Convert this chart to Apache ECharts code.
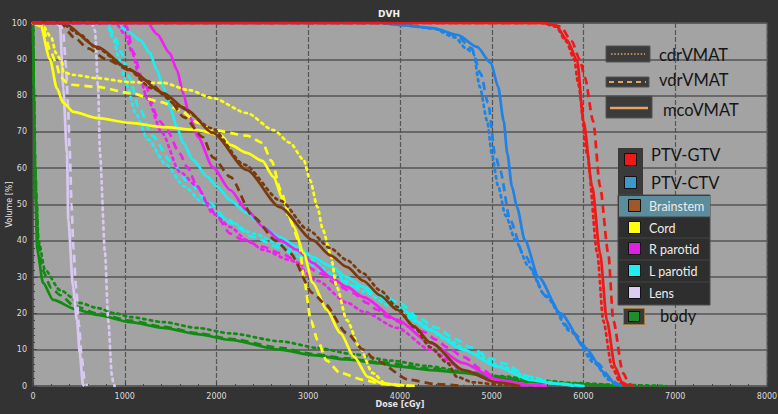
<!DOCTYPE html>
<html><head><meta charset="utf-8">
<script src="https://cdn.jsdelivr.net/npm/echarts@6/dist/echarts.min.js"></script>
<style>html,body{margin:0;padding:0;background:#333;}#c{width:778px;height:414px;}</style>
</head><body><div id="c"></div>
<script>
// ---- tick labels ----
const doseTicks = [0,1000,2000,3000,4000,5000,6000,7000,8000];
const volTicks = [0,10,20,30,40,50,60,70,80,90,100];
// ---- plans (line styles) ----
const planNames = ['cdrVMAT','vdrVMAT','mcoVMAT'];
// ---- structures ----
const structNames = ['PTV-GTV','PTV-CTV','Brainstem','Cord','R parotid','L parotid','Lens','body'];

// ---- DVH data: [dose cGy, volume %] ----
const gtvCdr = [[0,100],[5550,100],[5700,99],[5810,95],[5900,90],[5940,83.5],[6040,64],[6150,36.6],[6215,18],[6310,5.2],[6400,1],[6460,0]];
const gtvVdr = [[0,100],[5600,100],[5750,99],[5870,95],[5960,90],[6015,85],[6105,73],[6180,55],[6270,36.6],[6325,18],[6430,3.6],[6500,0.5],[6540,0]];
const gtvMco = [[0,100],[5550,100],[5700,99.3],[5820,95.3],[5930,89.8],[6000,73],[6095,55],[6180,36.6],[6255,18],[6345,5.2],[6420,1],[6480,0]];

const ctvCdr = [[0,100],[3800,100],[4000,99.5],[4360,98.5],[4600,96],[4720,93],[4800,91.7],[4870,82.4],[4950,73],[5000,64],[5070,55],[5150,47],[5260,40],[5400,33],[5580,25],[5860,15],[6120,6.3],[6280,1.7],[6350,0]];
const ctvVdr = [[0,100],[3800,100],[4000,99.5],[4360,98.5],[4620,96.5],[4780,93],[4880,86],[4960,78],[5035,64],[5090,59.5],[5200,45.7],[5340,36.6],[5600,24.5],[5890,14.6],[6150,6.3],[6310,1.7],[6380,0]];
const ctvMco = [[0,100],[3800,100],[4000,99.5],[4360,98.6],[4630,96.7],[4840,93.4],[4990,89],[5070,82.4],[5130,73],[5170,64],[5220,55],[5275,49.3],[5360,40.2],[5510,30],[5750,20],[6020,10.5],[6230,3.6],[6340,0.8],[6420,0]];

const bsCdr = [[0,100],[300,100],[500,97],[700,93],[1000,88],[1300,82],[1600,77],[1950,71],[2300,61],[2700,51],[3000,43],[3240,38],[3420,34.7],[3600,31],[3780,26.4],[3970,21.8],[4150,16.3],[4330,10.7],[4520,6.3],[4620,2.5],[4800,1],[5100,0.3],[5300,0]];
const bsVdr = [[0,100],[300,100],[450,96],[600,93],[800,90],[1050,87],[1250,84],[1450,80],[1650,74],[1850,68.6],[1960,63],[2150,57.6],[2400,46.6],[2650,40],[2800,36.6],[3050,25.6],[3170,22.9],[3420,14.6],[3600,10],[3740,7],[4100,1.7],[4400,0.5],[4700,0]];
const bsMco = [[0,100],[330,100],[700,93.4],[1060,87],[1420,80.7],[1680,76],[1960,69.7],[2330,59.5],[2690,49.3],[3050,40.2],[3240,36],[3420,32.8],[3600,29],[3780,25],[3970,21],[4150,16.5],[4330,12],[4690,4.4],[5060,1],[5300,0]];

const cordCdr = [[0,100],[100,99.5],[200,96],[250,91.7],[320,89],[330,86.5],[440,85.7],[700,84.8],[1060,83.7],[1420,83.5],[1700,81.5],[1960,79.3],[2330,75.2],[2620,70.5],[2800,67],[2950,62.3],[3020,56.7],[3100,49.3],[3160,43],[3240,36.6],[3310,27.3],[3420,18.2],[3560,10.7],[3700,3.6],[3850,0.5],[4100,0]];
const cordVdr = [[0,100],[100,99],[200,91.7],[250,89],[300,85],[400,83],[700,82.4],[1060,80.7],[1400,78.2],[1600,76],[1800,72.5],[1960,70.5],[2330,69],[2500,67],[2600,62],[2700,54],[2800,45.7],[2900,40],[2950,30],[3030,18],[3100,12.7],[3200,7],[3350,3.6],[3600,1.7],[3800,0.5],[4200,0]];
const cordMco = [[0,100],[80,99.4],[185,90],[260,82],[330,78],[440,75.5],[700,73.8],[1060,72.5],[1420,71.3],[1800,70.5],[2050,69],[2150,66.4],[2330,64.2],[2500,62],[2620,57.6],[2730,51],[2840,44],[2950,36.6],[3050,28.4],[3200,21],[3350,14.6],[3500,8],[3650,2.5],[3800,0.8],[4000,0]];

const rpCdr = [[0,100],[900,100],[1000,97],[1080,92],[1150,86],[1250,79],[1400,70],[1600,59],[1790,55],[1960,47.6],[2150,43.8],[2330,40.2],[2510,37.5],[2800,34.7],[3100,29],[3420,23],[3600,20.5],[3970,16],[4330,10],[4690,4.4],[5060,0.8],[5300,0]];
const rpVdr = [[0,100],[950,100],[1020,99],[1090,92],[1200,84],[1380,73],[1460,70.5],[1600,64],[1680,60.3],[1790,55],[1900,50.4],[2005,46.6],[2150,42],[2290,40.2],[2510,38.3],[2690,36.6],[2990,32.8],[3130,31],[3350,27.3],[3490,25.6],[3640,22.9],[3750,21],[3860,19],[4110,16.3],[4250,15],[4400,12.7],[4510,10.7],[4690,8],[4900,4.4],[5060,1.7],[5300,0.3],[5500,0]];
const rpMco = [[0,100],[1250,100],[1350,97],[1490,91.7],[1570,87],[1635,80.7],[1710,74],[1800,68.5],[1960,60.3],[2150,54],[2330,48.5],[2510,43.8],[2690,40.2],[2880,37.5],[3050,33.9],[3240,30],[3420,27.3],[3600,24.5],[3970,18.2],[4330,11.8],[4690,6.3],[5060,1.7],[5420,0.3],[5600,0]];

const lpCdr = [[0,100],[800,100],[870,96],[940,90],[1020,83],[1120,75],[1250,68],[1450,61],[1650,55],[1850,50.5],[2100,46],[2400,42],[2700,39],[3000,35],[3300,30.5],[3600,26],[3900,22],[4200,17.5],[4500,13],[4800,9],[5100,5.5],[5400,2.5],[5700,0.6],[6000,0]];
const lpVdr = [[0,100],[800,100],[880,97],[960,92],[1050,85],[1150,77],[1300,69],[1500,62],[1700,56],[1900,51],[2150,45],[2400,41],[2700,38],[2900,35.5],[3200,31],[3500,27.5],[3800,25],[4000,22.9],[4190,19],[4400,16],[4600,13],[4760,10.7],[5000,7.5],[5120,6.3],[5420,2.5],[5700,0.7],[6000,0]];
const lpMco = [[0,100],[900,100],[1020,98],[1170,95.3],[1275,91.7],[1350,87],[1420,82.4],[1490,77],[1570,71.3],[1635,67],[1745,62.3],[1900,57.6],[2005,55],[2150,51.2],[2330,47.6],[2510,43.8],[2690,41],[2880,38.3],[3050,35.5],[3240,33],[3420,30],[3600,27.3],[3970,21.8],[4330,15.4],[4690,10],[5060,5.3],[5420,1.7],[5640,0.8],[5900,0]];

const lensCdr = [[0,100],[640,100],[675,98],[710,82],[730,64],[785,36.6],[820,18],[860,3],[875,0.8],[890,0]];
const lensVdr = [[0,100],[300,100],[330,97],[360,88],[380,78],[400,65],[420,50],[440,38],[470,27],[500,17],[530,8],[560,2],[590,0]];
const lensMco = [[0,100],[260,100],[295,99],[330,82],[370,64],[385,45.7],[436,27.3],[480,18],[510,9],[545,0.3],[560,0]];

const bodyCdr = [[0,100],[10,80],[25,60],[40,50],[60,40],[130,32],[295,26.4],[510,22.9],[700,21.5],[900,20],[1060,19],[1420,17.6],[1790,16],[2150,14.5],[2700,12.3],[3100,10.5],[3500,8.7],[3900,7],[4300,5.5],[4700,4],[5100,2.7],[5500,1.6],[5900,0.8],[6400,0.3],[6900,0]];
const bodyVdr = [[0,100],[10,80],[25,60],[40,50],[55,40],[100,32],[200,27],[300,25],[450,22],[700,20],[1060,18],[1420,16.3],[1790,14.6],[2150,13],[2700,10.5],[3050,8.8],[3420,7.6],[3780,6.5],[4330,4.8],[4700,3.8],[5060,2.6],[5420,1.4],[5800,0.8],[6200,0.3],[6500,0]];
const bodyMco = [[0,100],[10,80],[20,60],[30,50],[45,37.5],[110,28.4],[220,23.7],[480,21],[700,19.6],[1060,17.6],[1420,16],[1790,14.3],[2150,12.7],[2690,10],[3050,8.5],[3420,7.3],[3780,6.2],[3970,5.4],[4330,4.4],[4690,3.6],[5060,2.2],[5420,1.1],[5740,0.7],[6100,0.3],[6350,0]];

const structData = {
  'body':[bodyCdr,bodyVdr,bodyMco],
  'Lens':[lensCdr,lensVdr,lensMco],
  'L parotid':[lpCdr,lpVdr,lpMco],
  'R parotid':[rpCdr,rpVdr,rpMco],
  'Cord':[cordCdr,cordVdr,cordMco],
  'Brainstem':[bsCdr,bsVdr,bsMco],
  'PTV-CTV':[ctvCdr,ctvVdr,ctvMco],
  'PTV-GTV':[gtvCdr,gtvVdr,gtvMco]
};
const colors = {
  'PTV-GTV':'#f01818','PTV-CTV':'#1e82e6','Brainstem':'#7a3a0c','Cord':'#ffff10',
  'R parotid':'#f020f0','L parotid':'#18f0f0','Lens':'#d8c8f2','body':'#138a13'
};
const dashes = [[2.4,4.2],[8,5],'solid'];

const series = [];
Object.keys(structData).forEach(function(s){
  structData[s].forEach(function(arr,i){
    series.push({
      name: s + ' ' + planNames[i], type:'line', data: arr, showSymbol:false, symbol:'none',
      smooth:0.25, smoothMonotone:'x', clip:true, silent:true,
      lineStyle:{color:colors[s], width:2.7, type:dashes[i], cap: i===0?'round':'butt'}
    });
  });
});

// ---- legend graphics ----
const g = [];
const sampleColor = '#e2a565';
function box(x,y,w,h,fill,stroke){return {type:'rect',shape:{x:x,y:y,width:w,height:h},style:{fill:fill,stroke:stroke||null,lineWidth:1},z:100};}
function txt(x,y,t,size,color){return {type:'text',x:x,y:y,style:{text:t,font:'normal '+size+'px Lato, "Open Sans", sans-serif',fill:color,textVerticalAlign:'middle',verticalAlign:'middle'},z:102};}
g.push(box(606,46,44,16,'#3b3b3b','#555'));
g.push({type:'line',shape:{x1:611,y1:54,x2:645,y2:54},style:{stroke:sampleColor,lineWidth:1.6,lineDash:[1.5,1.8]},z:101});
g.push(txt(659,55,planNames[0],16.5,'#151515'));
g.push(box(606,77,43,10,'#3b3b3b','#555'));
g.push({type:'line',shape:{x1:609,y1:82,x2:646,y2:82},style:{stroke:sampleColor,lineWidth:2,lineDash:[5,4]},z:101});
g.push(txt(659,80,planNames[1],16.5,'#151515'));
g.push(box(606,96,46,22,'#3b3b3b','#555'));
g.push({type:'line',shape:{x1:610,y1:108,x2:648,y2:108},style:{stroke:sampleColor,lineWidth:2.5},z:101});
g.push(txt(663,110,planNames[2],16.5,'#151515'));

g.push(box(618,148,25,47,'#3a3a3a',null));
g.push(box(624.5,153.5,12,12,colors['PTV-GTV'],'#111'));
g.push(txt(651,155,structNames[0],16.5,'#151515'));
g.push(box(624.5,176.5,12,12,'#3a98cc','#111'));
g.push(txt(651,183,structNames[1],16.5,'#151515'));

g.push(box(618,195,92,110,'#2e2e2e','#4a4a4a'));
g.push(box(619,196,91,21,'#5b8d9c',null));
const rowY = [206,228,249,271,293];
const rowNames = structNames.slice(2,7);
const rowCols = ['#a0572a','#ffff10','#e020e0','#20eef0','#dccdf4'];
rowY.forEach(function(y,i){
  if(i>0){g.push({type:'line',shape:{x1:619,y1:y-11,x2:710,y2:y-11},style:{stroke:'#444',lineWidth:1},z:101});}
  g.push(box(628.5,y-6.5,12,12,rowCols[i],'#111'));
  g.push(txt(649,y,rowNames[i],12.5,'#ececec'));
});
g.push(box(623.5,308.5,21,16,'#3a3a3a','#a0743c'));
g.push(box(628.5,311.5,11,10,'#1d8f2a','#111'));
g.push(txt(660,316,structNames[7],16.5,'#151515'));

const chart = echarts.init(document.getElementById('c'),null,{renderer:'svg'});
chart.setOption({
  backgroundColor:'#333333',
  animation:false,
  title:{text:'DVH',left:'center',top:4,textStyle:{color:'#f2f2f2',fontSize:9,fontWeight:'bold',fontFamily:'DejaVu Sans'}},
  grid:{left:33,right:11,top:23,bottom:28,containLabel:false,outerBoundsMode:'none',show:true,backgroundColor:'#a3a3a3',borderColor:'#5a5a5a',borderWidth:1},
  xAxis:{type:'value',min:doseTicks[0],max:doseTicks[doseTicks.length-1],interval:1000,
    name:'Dose [cGy]',nameLocation:'middle',nameGap:14,nameMoveOverlap:false,
    nameTextStyle:{color:'#e6e6e6',fontSize:8,fontWeight:'bold',fontFamily:'DejaVu Sans'},
    axisLine:{show:true,lineStyle:{color:'#5a5a5a'}},
    axisTick:{show:true,inside:true,length:4,lineStyle:{color:'#444'}},
    minorTick:{show:true,splitNumber:5,length:2,lineStyle:{color:'#444'}},
    axisLabel:{color:'#dcdcdc',fontSize:8,margin:6,fontFamily:'DejaVu Sans',
      formatter:function(v){return doseTicks.indexOf(v)>=0?String(v):'';}},
    splitLine:{show:true,lineStyle:{color:'#555',width:1.2,type:[5,2]}}
  },
  yAxis:{type:'value',min:volTicks[0],max:volTicks[volTicks.length-1],interval:10,
    name:'Volume [%]',nameLocation:'middle',nameGap:20,nameMoveOverlap:false,
    nameTextStyle:{color:'#e6e6e6',fontSize:8,fontFamily:'DejaVu Sans'},
    axisLine:{show:true,lineStyle:{color:'#5a5a5a'}},
    axisTick:{show:true,inside:true,length:4,lineStyle:{color:'#444'}},
    minorTick:{show:true,splitNumber:5,length:2,lineStyle:{color:'#444'}},
    axisLabel:{color:'#dcdcdc',fontSize:8,margin:6,fontFamily:'DejaVu Sans'},
    splitLine:{show:true,lineStyle:{color:'#555',width:1.5}}
  },
  series:series,
  graphic:g
});
</script></body></html>
